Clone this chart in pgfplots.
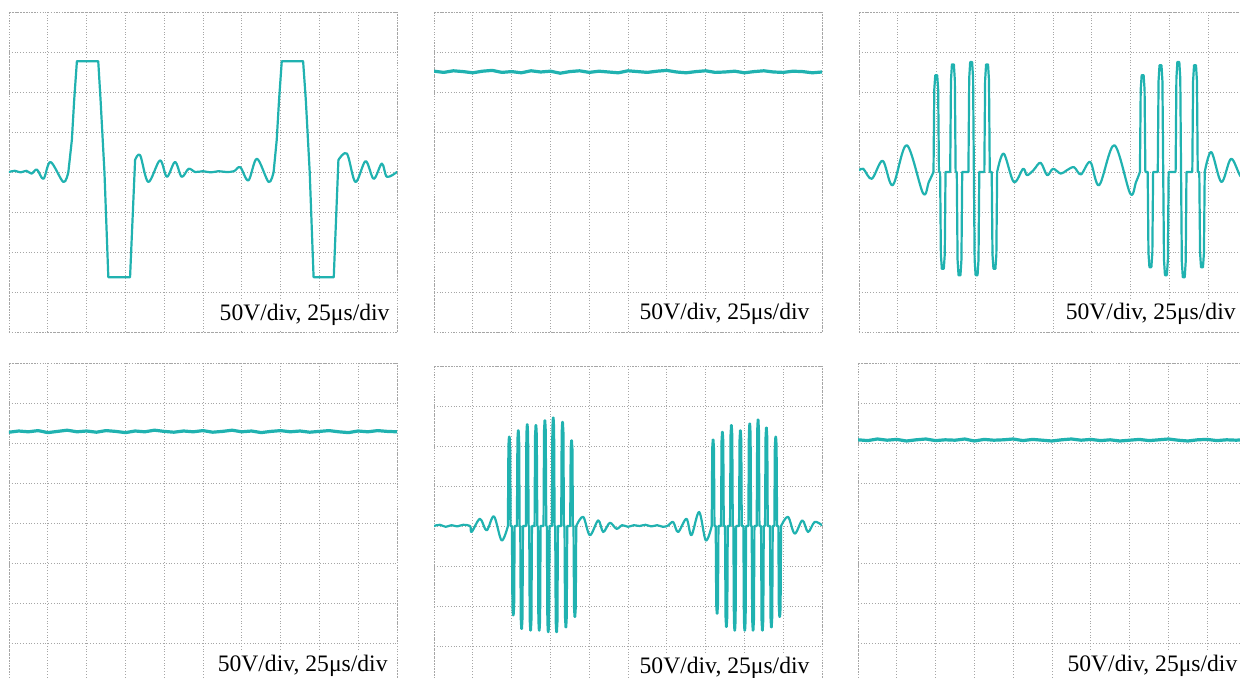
\documentclass[border=0pt]{standalone}
\usepackage{fontspec}
\setmainfont{Liberation Serif}
\usepackage{pgfplots}
\pgfplotsset{compat=1.18}
\definecolor{tracec}{RGB}{32,178,176}
\pgfplotsset{
  osc/.style={width=194pt,height=160pt,scale only axis,
    xmin=0,xmax=10,ymin=-4,ymax=4,
    xtick={0,...,10},ytick={-4,...,4},
    xticklabels={},yticklabels={},
    grid=major,
    major grid style={black!35,densely dotted,line width=0.35pt},
    axis line style={black!35,densely dotted,line width=0.35pt},
    tick style={draw=none},
    anchor=north west},
  trace/.style={color=tracec,line width=1.1pt,no markers,line join=round,line cap=round},
  wig/.style={trace,smooth,tension=0.55},
  flat/.style={trace,line width=1.6pt},
}
\newcommand{\osclabel}[2]{\node[anchor=base east,fill=white,inner xsep=2pt,inner ysep=2pt,font=\fontsize{11.8}{14}\selectfont] at (axis cs:#1,#2) {50V/div, 25μs/div};}
\begin{document}
\begin{tikzpicture}
\clip (0,0) rectangle (620pt,-339pt);
\fill[white] (0,0) rectangle (620pt,-339pt);
% Panel 1
\begin{axis}[osc, at={(4.5pt,-6pt)}]
\addplot[wig] table {
0.00 0.00
0.15 0.03
0.30 -0.01
0.45 0.03
0.58 -0.04
0.72 0.06
0.89 -0.17
1.07 0.25
1.40 -0.25
1.53 0.00
};
\addplot[trace] table {
1.53 0.00
1.62 0.80
1.68 1.80
1.75 2.77
2.30 2.77
2.36 1.80
2.46 0.00
2.56 -2.63
3.12 -2.63
3.25 0.30
};
\addplot[wig] table {
3.25 0.30
3.38 0.42
3.59 -0.25
3.89 0.29
4.07 -0.12
4.28 0.25
4.45 -0.12
4.63 0.08
4.80 0.00
5.00 0.02
5.20 -0.01
5.40 0.02
5.60 0.00
5.80 0.02
5.96 0.12
6.17 -0.21
6.39 0.33
6.69 -0.25
6.82 0.00
};
\addplot[trace] table {
6.82 0.00
6.90 0.80
6.96 1.80
7.03 2.77
7.58 2.77
7.65 1.80
7.75 0.00
7.85 -2.63
8.37 -2.63
8.49 0.30
};
\addplot[wig] table {
8.49 0.30
8.71 0.46
8.93 -0.25
9.19 0.27
9.40 -0.17
9.61 0.21
9.74 -0.12
10.00 0.00
};
\osclabel{9.92}{-3.72}
\end{axis}
% Panel 2
\begin{axis}[osc, at={(217pt,-6pt)}]
\addplot[flat] table {
0.00 2.52
0.25 2.49
0.50 2.53
0.75 2.51
1.00 2.48
1.25 2.52
1.50 2.54
1.75 2.49
2.00 2.51
2.25 2.48
2.50 2.53
2.75 2.50
3.00 2.52
3.25 2.47
3.50 2.51
3.75 2.53
4.00 2.49
4.25 2.52
4.50 2.50
4.75 2.48
5.00 2.53
5.25 2.51
5.50 2.49
5.75 2.52
6.00 2.54
6.25 2.50
6.50 2.48
6.75 2.51
7.00 2.53
7.25 2.49
7.50 2.50
7.75 2.52
8.00 2.48
8.25 2.51
8.50 2.53
8.75 2.50
9.00 2.49
9.25 2.52
9.50 2.51
9.75 2.48
10.00 2.50
};
\osclabel{9.79}{-3.70}
\end{axis}
% Panel 3
\begin{axis}[osc, at={(429.5pt,-6pt)}]
\addplot[wig] table {
0.00 0.04
0.11 0.08
0.33 -0.17
0.61 0.28
0.87 -0.33
1.23 0.67
1.65 -0.53
1.80 -0.25
1.92 0.00
};
\addplot[trace] table {
1.92 0.00
1.94 2.06
1.965 2.42
2.015 2.42
2.04 2.06
2.06 0.00
2.09 0.00
2.11 -2.06
2.135 -2.42
2.185 -2.42
2.21 -2.06
2.23 0.00
2.35 0.00
2.37 2.29
2.395 2.69
2.445 2.69
2.47 2.29
2.49 0.00
2.52 0.00
2.54 -2.19
2.565 -2.58
2.615 -2.58
2.64 -2.19
2.66 0.00
2.82 0.00
2.84 2.34
2.865 2.75
2.915 2.75
2.94 2.34
2.96 0.00
2.98 -2.19
3.005 -2.58
3.055 -2.58
3.08 -2.19
3.10 0.00
3.23 0.00
3.25 2.29
3.275 2.69
3.325 2.69
3.35 2.29
3.37 0.00
3.42 0.00
3.44 -2.06
3.465 -2.42
3.515 -2.42
3.54 -2.06
3.56 0.00
};
\addplot[wig] table {
3.56 0.00
3.73 0.46
3.99 -0.25
4.23 0.08
4.33 -0.08
4.50 0.05
4.68 0.23
4.85 -0.08
5.00 0.08
5.20 -0.04
5.35 0.04
5.54 0.12
5.72 -0.06
5.96 0.25
6.19 -0.33
6.58 0.67
6.99 -0.54
7.14 -0.25
7.24 0.00
};
\addplot[trace] table {
7.24 0.00
7.26 2.06
7.285 2.42
7.335 2.42
7.36 2.06
7.38 0.00
7.44 0.00
7.46 -2.02
7.485 -2.38
7.535 -2.38
7.56 -2.02
7.58 0.00
7.70 0.00
7.72 2.27
7.745 2.67
7.795 2.67
7.82 2.27
7.84 0.00
7.86 -2.19
7.885 -2.58
7.935 -2.58
7.96 -2.19
7.98 0.00
8.16 0.00
8.18 2.34
8.205 2.75
8.255 2.75
8.28 2.34
8.30 0.00
8.32 -2.24
8.345 -2.63
8.395 -2.63
8.42 -2.24
8.44 0.00
8.59 0.00
8.61 2.27
8.635 2.67
8.685 2.67
8.71 2.27
8.73 0.00
8.77 0.00
8.79 -2.02
8.815 -2.38
8.865 -2.38
8.89 -2.02
8.91 0.00
};
\addplot[wig] table {
8.91 0.00
9.08 0.50
9.34 -0.25
9.59 0.33
9.85 -0.12
10.05 0.10
10.25 0.00
};
\osclabel{9.82}{-3.70}
\end{axis}
% Panel 4
\begin{axis}[osc, at={(4.5pt,-181.5pt)}]
\addplot[flat] table {
0.00 2.27
0.25 2.30
0.50 2.28
0.75 2.31
1.00 2.26
1.25 2.29
1.50 2.32
1.75 2.28
2.00 2.30
2.25 2.27
2.50 2.31
2.75 2.29
3.00 2.26
3.25 2.30
3.50 2.28
3.75 2.32
4.00 2.29
4.25 2.27
4.50 2.30
4.75 2.28
5.00 2.31
5.25 2.27
5.50 2.29
5.75 2.32
6.00 2.28
6.25 2.30
6.50 2.26
6.75 2.29
7.00 2.31
7.25 2.28
7.50 2.30
7.75 2.27
8.00 2.29
8.25 2.31
8.50 2.28
8.75 2.26
9.00 2.30
9.25 2.28
9.50 2.31
9.75 2.29
10.00 2.28
};
\osclabel{9.87}{-3.72}
\end{axis}
% Panel 5
\begin{axis}[osc, at={(217pt,-183pt)}]
\addplot[wig] table {
0.00 0.00
0.15 0.03
0.30 -0.02
0.45 0.02
0.60 -0.01
0.75 0.03
0.93 0.00
0.97 -0.15
1.185 0.18
1.356 -0.11
1.545 0.24
1.742 -0.36
1.905 0.00
};
\addplot[trace] table {
1.905 0.00
1.918 2.01
1.932 2.23
1.948 2.23
1.962 2.01
1.975 0.00
2.008 0.00
2.021 -2.01
2.035 -2.23
2.051 -2.23
2.065 -2.01
2.078 0.00
2.137 0.00
2.150 2.15
2.164 2.39
2.180 2.39
2.194 2.15
2.207 0.00
2.223 0.00
2.236 -2.31
2.250 -2.57
2.266 -2.57
2.280 -2.31
2.293 0.00
2.368 0.00
2.381 2.29
2.395 2.54
2.411 2.54
2.425 2.29
2.438 0.00
2.454 0.00
2.467 -2.35
2.481 -2.61
2.497 -2.61
2.511 -2.35
2.524 0.00
2.592 0.00
2.605 2.27
2.619 2.52
2.635 2.52
2.649 2.27
2.662 0.00
2.677 0.00
2.690 -2.35
2.704 -2.61
2.720 -2.61
2.734 -2.35
2.747 0.00
2.823 0.00
2.836 2.38
2.850 2.64
2.866 2.64
2.880 2.38
2.893 0.00
2.909 0.00
2.922 -2.39
2.936 -2.65
2.952 -2.65
2.966 -2.39
2.979 0.00
3.038 0.00
3.051 2.44
3.065 2.71
3.081 2.71
3.095 2.44
3.108 0.00
3.124 0.00
3.137 -2.39
3.151 -2.65
3.167 -2.65
3.181 -2.39
3.194 0.00
3.278 0.00
3.291 2.34
3.305 2.60
3.321 2.60
3.335 2.34
3.348 0.00
3.364 0.00
3.377 -2.28
3.391 -2.53
3.407 -2.53
3.421 -2.28
3.434 0.00
3.510 0.00
3.523 1.93
3.537 2.14
3.553 2.14
3.567 1.93
3.580 0.00
3.596 0.00
3.609 -2.04
3.623 -2.27
3.639 -2.27
3.653 -2.04
3.666 0.00
};
\addplot[wig] table {
3.666 0.00
3.845 0.23
4.017 -0.23
4.232 0.14
4.361 -0.15
4.532 0.08
4.704 -0.07
4.85 0.02
5.00 -0.02
5.15 0.02
5.30 0.00
5.45 0.03
5.60 -0.01
5.75 0.02
5.90 -0.02
6.034 0.01
6.163 0.10
6.292 -0.15
6.506 0.18
6.635 -0.23
6.833 0.35
7.004 -0.36
7.158 0.00
};
\addplot[trace] table {
7.158 0.00
7.171 1.94
7.185 2.16
7.201 2.16
7.215 1.94
7.228 0.00
7.261 0.00
7.274 -1.97
7.288 -2.19
7.304 -2.19
7.318 -1.97
7.331 0.00
7.398 0.00
7.411 2.12
7.425 2.35
7.441 2.35
7.455 2.12
7.468 0.00
7.501 0.00
7.514 -2.27
7.528 -2.52
7.544 -2.52
7.558 -2.27
7.571 0.00
7.630 0.00
7.643 2.27
7.657 2.52
7.673 2.52
7.687 2.27
7.700 0.00
7.716 0.00
7.729 -2.35
7.743 -2.61
7.759 -2.61
7.773 -2.35
7.786 0.00
7.862 0.00
7.875 2.15
7.889 2.39
7.905 2.39
7.919 2.15
7.932 0.00
7.974 0.00
7.987 -2.35
8.001 -2.61
8.017 -2.61
8.031 -2.35
8.044 0.00
8.102 0.00
8.115 2.30
8.129 2.56
8.145 2.56
8.159 2.30
8.172 0.00
8.188 0.00
8.201 -2.35
8.215 -2.61
8.231 -2.61
8.245 -2.35
8.258 0.00
8.317 0.00
8.330 2.39
8.344 2.66
8.360 2.66
8.374 2.39
8.387 0.00
8.429 0.00
8.442 -2.35
8.456 -2.61
8.472 -2.61
8.486 -2.35
8.499 0.00
8.532 0.00
8.545 2.21
8.559 2.46
8.575 2.46
8.589 2.21
8.602 0.00
8.660 0.00
8.673 -2.28
8.687 -2.53
8.703 -2.53
8.717 -2.28
8.730 0.00
8.772 0.00
8.785 2.01
8.799 2.23
8.815 2.23
8.829 2.01
8.842 0.00
8.875 0.00
8.888 -2.04
8.902 -2.27
8.918 -2.27
8.932 -2.04
8.945 0.00
};
\addplot[wig] table {
8.945 0.00
9.124 0.23
9.296 -0.19
9.494 0.14
9.640 -0.15
9.810 0.10
10.00 0.02
};
\osclabel{9.79}{-3.68}
\end{axis}
% Panel 6
\begin{axis}[osc, at={(429pt,-181.5pt)}]
\addplot[flat] table {
0.00 2.08
0.25 2.06
0.50 2.10
0.75 2.07
1.00 2.09
1.25 2.05
1.50 2.08
1.75 2.10
2.00 2.06
2.25 2.08
2.50 2.07
2.75 2.10
3.00 2.05
3.25 2.09
3.50 2.07
3.75 2.08
4.00 2.10
4.25 2.06
4.50 2.09
4.75 2.07
5.00 2.05
5.25 2.08
5.50 2.10
5.75 2.07
6.00 2.09
6.25 2.06
6.50 2.08
6.75 2.05
7.00 2.07
7.25 2.09
7.50 2.06
7.75 2.08
8.00 2.10
8.25 2.07
8.50 2.05
8.75 2.08
9.00 2.09
9.25 2.06
9.50 2.08
9.75 2.07
10.00 2.09
10.25 2.08
};
\osclabel{9.89}{-3.72}
\end{axis}
\end{tikzpicture}
\end{document}
